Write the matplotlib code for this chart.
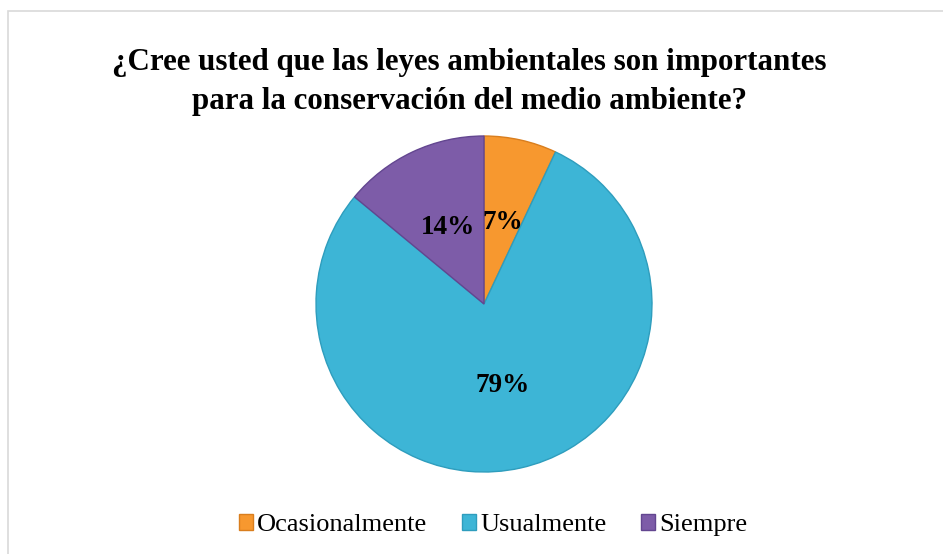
import matplotlib
matplotlib.use("Agg")
import matplotlib.pyplot as plt
from matplotlib.patches import Rectangle

categories = ["Ocasionalmente", "Usualmente", "Siempre"]
values = [7, 79, 14]
colors = ["#F7982F", "#3DB5D6", "#7D5CA8"]
edge_colors = ["#D97E1E", "#2E9DBD", "#634690"]
title = "¿Cree usted que las leyes ambientales son importantes\npara la conservación del medio ambiente?"

plt.rcParams['font.family'] = ['Liberation Serif', 'DejaVu Serif']

fig = plt.figure(figsize=(9.43, 5.54), dpi=100)
fig.patches.append(Rectangle((8/943, -0.01), 1.0, (554-11)/554 + 0.01, transform=fig.transFigure,
                             fill=False, edgecolor="#D9D9D9", linewidth=1.2))

cx, cy, r = 484, 304, 168
ax = fig.add_axes([(cx - r) / 943, (554 - cy - r) / 554, 2 * r / 943, 2 * r / 554])
wedges, texts, autotexts = ax.pie(values, colors=colors, startangle=90, counterclock=False,
                                  autopct=lambda p: f"{p:.0f}%", pctdistance=0.5,
                                  wedgeprops=dict(linewidth=1.0),
                                  textprops=dict(fontsize=19.5, fontweight='bold', color='black'))
for w, ec in zip(wedges, edge_colors):
    w.set_edgecolor(ec)
ax.set_aspect('equal')
ax.set_xlim(-1, 1)
ax.set_ylim(-1, 1)

fig.text(469 / 943, 1 - 82 / 554, title, ha='center', va='center', fontsize=22.3,
         fontweight='bold', linespacing=1.42)

fig.legend(wedges, categories, loc='center', bbox_to_anchor=(493 / 943, 1 - 525 / 554),
           ncol=3, frameon=False, fontsize=19, handlelength=0.55, handleheight=0.55,
           handletextpad=0.15, columnspacing=1.3)

fig.savefig("out.png", dpi=100, facecolor="white")
